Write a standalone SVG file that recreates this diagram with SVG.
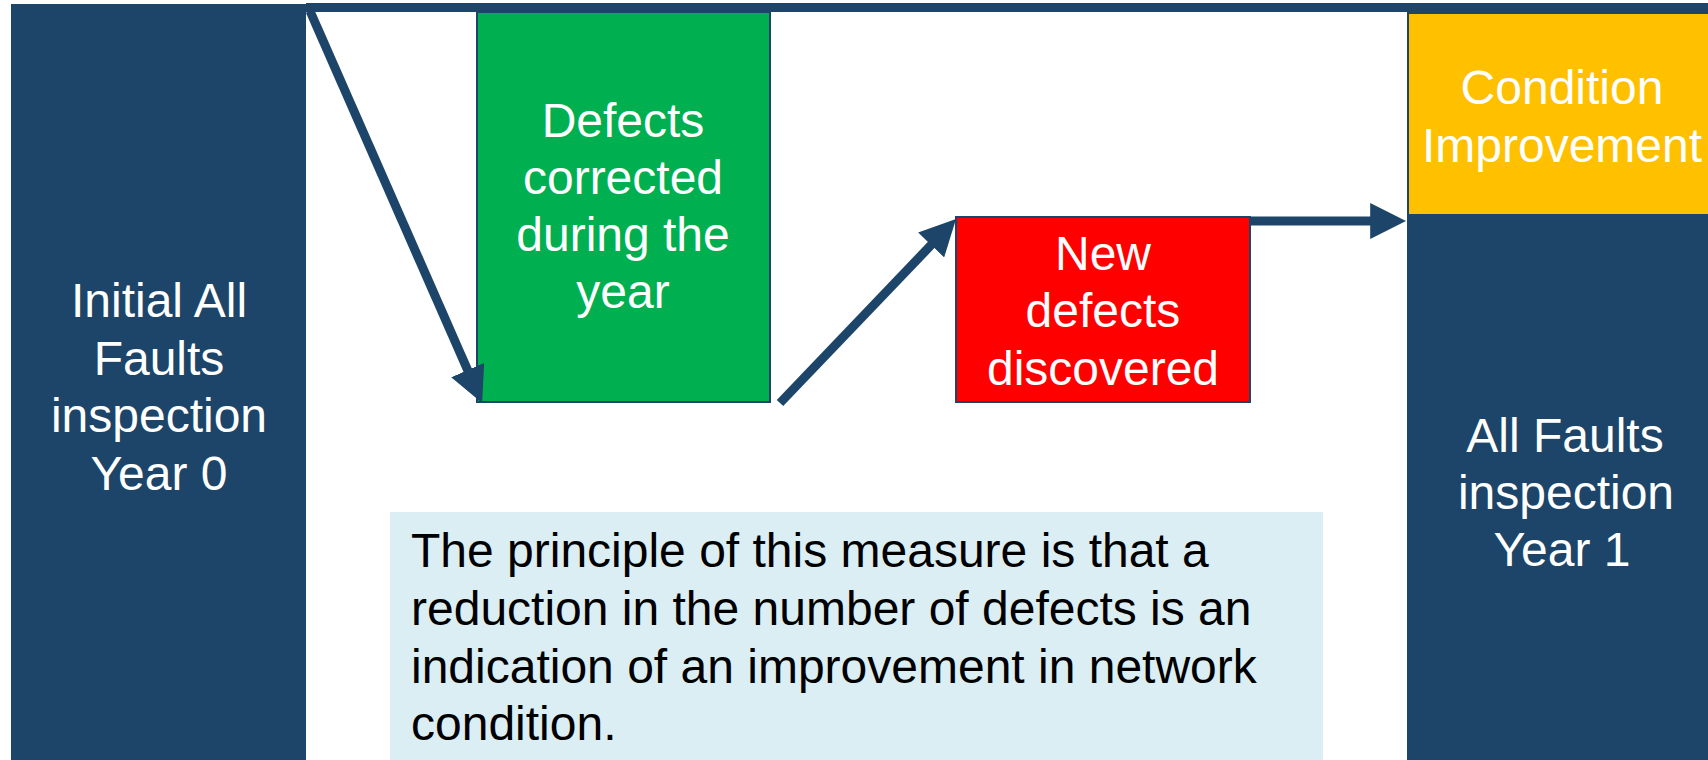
<svg xmlns="http://www.w3.org/2000/svg" width="1708" height="760" viewBox="0 0 1708 760">
<defs>
<style>
.lbl{font-family:"Liberation Sans",Arial,sans-serif;font-size:48px;fill:#ffffff;text-anchor:middle}
.note{font-family:"Liberation Sans",Arial,sans-serif;font-size:48px;fill:#000000}
.conn{stroke:#1C4569;stroke-width:9;fill:none}
</style>
<marker id="ah" viewBox="0 0 10 10" refX="3" refY="5" markerWidth="36" markerHeight="36" markerUnits="userSpaceOnUse" orient="auto">
<path d="M0,0 L10,5 L0,10 z" fill="#1C4569"/>
</marker>
</defs>
<rect x="0" y="0" width="1708" height="760" fill="#ffffff"/>
<rect x="306" y="3" width="1402" height="9" fill="#1C4569"/>
<g id="year0">
<rect x="11" y="4" width="295" height="760" fill="#1C4569"/>
<text class="lbl" x="159" y="317">Initial All</text>
<text class="lbl" x="159" y="375">Faults</text>
<text class="lbl" x="159" y="432">inspection</text>
<text class="lbl" x="159" y="490">Year 0</text>
</g>
<g id="corrected">
<rect x="477" y="12" width="293" height="390" fill="#00B050" stroke="#1C4569" stroke-width="2"/>
<text class="lbl" x="623" y="137">Defects</text>
<text class="lbl" x="623" y="194">corrected</text>
<text class="lbl" x="623" y="251">during the</text>
<text class="lbl" x="623" y="308">year</text>
</g>
<g id="newdefects">
<rect x="956" y="217" width="294" height="185" fill="#FF0000" stroke="#1C4569" stroke-width="2"/>
<text class="lbl" x="1103" y="270">New</text>
<text class="lbl" x="1103" y="327">defects</text>
<text class="lbl" x="1103" y="385">discovered</text>
</g>
<g id="year1">
<rect x="1408" y="215" width="310" height="550" fill="#1C4569" stroke="#1C4569" stroke-width="2"/>
<text class="lbl" x="1565" y="452">All Faults</text>
<text class="lbl" x="1566" y="509">inspection</text>
<text class="lbl" x="1562" y="566">Year 1</text>
</g>
<g id="improvement">
<rect x="1408" y="13" width="310" height="202" fill="#FFC000" stroke="#1C4569" stroke-width="2"/>
<text class="lbl" x="1562" y="104">Condition</text>
<text class="lbl" x="1562" y="162">Improvement</text>
</g>
<g id="note">
<rect x="390" y="512" width="933" height="250" fill="#DAEEF3"/>
<text class="note" x="411" y="567">The principle of this measure is that a</text>
<text class="note" x="411" y="625">reduction in the number of defects is an</text>
<text class="note" x="411" y="683">indication of an improvement in network</text>
<text class="note" x="411" y="740">condition.</text>
</g>
<g id="connectors">
<line class="conn" x1="310" y1="11" x2="472" y2="380" marker-end="url(#ah)"/>
<line class="conn" x1="780" y1="403" x2="938.6" y2="237.2" marker-end="url(#ah)"/>
<line class="conn" x1="1250" y1="221" x2="1381" y2="221" marker-end="url(#ah)"/>
</g>
</svg>
